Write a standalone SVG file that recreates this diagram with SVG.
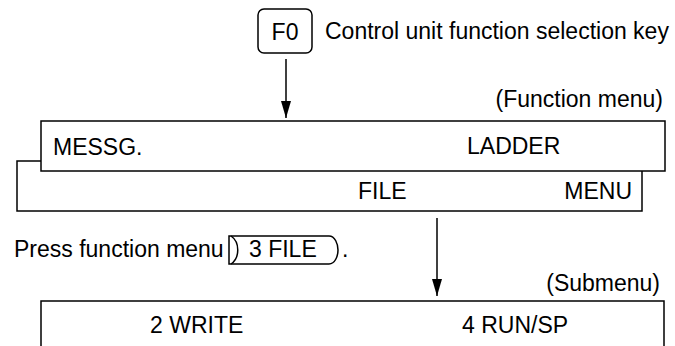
<svg xmlns="http://www.w3.org/2000/svg" width="675" height="346" viewBox="0 0 675 346">
<defs>
<style>
text{font-family:"Liberation Sans",Arial,sans-serif;font-size:23px;fill:#000}
.box{fill:#fff;stroke:#000;stroke-width:1.5}
.ln{fill:none;stroke:#000;stroke-width:1.5}
</style>
<marker id="ah" markerWidth="17" markerHeight="10" refX="17" refY="5" orient="auto" markerUnits="userSpaceOnUse" viewBox="0 0 17 10">
<path d="M0,0 L17,5 L0,10 Z" fill="#000"/>
</marker>
</defs>
<rect width="675" height="346" fill="#fff"/>
<g id="key-f0">
<rect class="box" x="258" y="9" width="54" height="44" rx="6"/>
<text x="285" y="40" text-anchor="middle">F0</text>
</g>
<text id="label-f0" x="325" y="39">Control unit function selection key</text>
<g id="function-menu">
<text x="663" y="107" text-anchor="end">(Function menu)</text>
<rect class="box" x="17" y="161" width="625" height="50"/>
<rect class="box" x="41" y="121" width="624" height="50"/>
<text x="53" y="155">MESSG.</text>
<text x="467" y="154">LADDER</text>
<text x="358" y="199">FILE</text>
<text x="632" y="199" text-anchor="end">MENU</text>
</g>
<g id="press-step">
<text x="14" y="257">Press function menu</text>
<path class="box" d="M229,236 H329 C335,236 338,244 338,250 C338,256 335,264 329,264 H229 Z"/>
<path class="ln" d="M231,236 C240,242 240,258 231,264"/>
<text x="249" y="257">3 FILE</text>
<text x="342" y="257">.</text>
</g>
<g id="submenu">
<text x="660" y="291" text-anchor="end">(Submenu)</text>
<path class="box" d="M41,350 V301 H664 V350"/>
<text x="150" y="333">2 WRITE</text>
<text x="462" y="333">4 RUN/SP</text>
</g>
<g id="connectors">
<line class="ln" x1="286" y1="59" x2="286" y2="118" marker-end="url(#ah)"/>
<line class="ln" x1="437" y1="218" x2="437" y2="296" marker-end="url(#ah)"/>
</g>
</svg>
